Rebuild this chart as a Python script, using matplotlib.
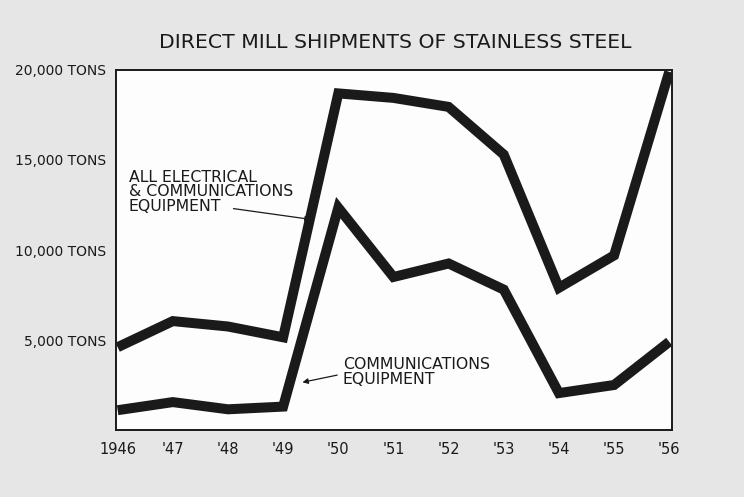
import matplotlib
matplotlib.use("Agg")
import matplotlib.pyplot as plt

years = [1946, 1947, 1948, 1949, 1950, 1951, 1952, 1953, 1954, 1955, 1956]
year_labels = ["1946", "'47", "'48", "'49", "'50", "'51", "'52", "'53", "'54", "'55", "'56"]
all_electrical = [4600, 6050, 5750, 5150, 18700, 18450, 17950, 15300, 7900, 9700, 19900]
communications = [1100, 1550, 1150, 1300, 12350, 8500, 9250, 7800, 2050, 2500, 4900]
y_ticks = [5000, 10000, 15000, 20000]
y_tick_labels = ["5,000 TONS", "10,000 TONS", "15,000 TONS", "20,000 TONS"]
title = "DIRECT MILL SHIPMENTS OF STAINLESS STEEL"
label_all = "ALL ELECTRICAL\n& COMMUNICATIONS\nEQUIPMENT"
label_comm = "COMMUNICATIONS\nEQUIPMENT"

bg = "#e6e6e6"
ink = "#1a1a1a"

fig = plt.figure(figsize=(7.44, 4.97), dpi=100, facecolor=bg)
ax = fig.add_axes([116 / 744, 1 - 430 / 497, (672 - 116) / 744, (430 - 70) / 497])
ax.set_facecolor("#fdfdfd")

ax.plot(years, all_electrical, color=ink, lw=7.2, solid_joinstyle="miter", solid_capstyle="butt")
ax.plot(years, communications, color=ink, lw=7.2, solid_joinstyle="miter", solid_capstyle="butt")

ax.set_xlim(1945.97, 1956.05)
ax.set_ylim(0, 20000)

ax.set_xticks(years)
ax.set_xticklabels(year_labels, fontsize=10.5, color=ink)
ax.set_yticks(y_ticks)
ax.set_yticklabels(y_tick_labels, fontsize=10, color=ink)
ax.tick_params(axis="both", length=0)
ax.tick_params(axis="y", pad=7)
ax.tick_params(axis="x", pad=9)

for s in ax.spines.values():
    s.set_color(ink)
    s.set_linewidth(1.4)

fig.text(395 / 744, 1 - 42 / 497, title, ha="center", va="center",
         fontsize=14.7, color=ink)

ax.text(1946.2, 14450, label_all, ha="left", va="top", fontsize=11.3,
        color=ink, linespacing=0.95)
ax.annotate("", xy=(1949.5, 11700), xytext=(1948.1, 12300),
            arrowprops=dict(arrowstyle="-|>", color=ink, lw=0.9,
                            mutation_scale=8, shrinkA=0, shrinkB=0))

ax.text(1950.08, 4050, label_comm, ha="left", va="top", fontsize=11.3,
        color=ink, linespacing=1.0)
ax.annotate("", xy=(1949.35, 2650), xytext=(1949.98, 3050),
            arrowprops=dict(arrowstyle="-|>", color=ink, lw=0.9,
                            mutation_scale=8, shrinkA=0, shrinkB=0))

fig.savefig("out.png", dpi=100, facecolor=bg)
